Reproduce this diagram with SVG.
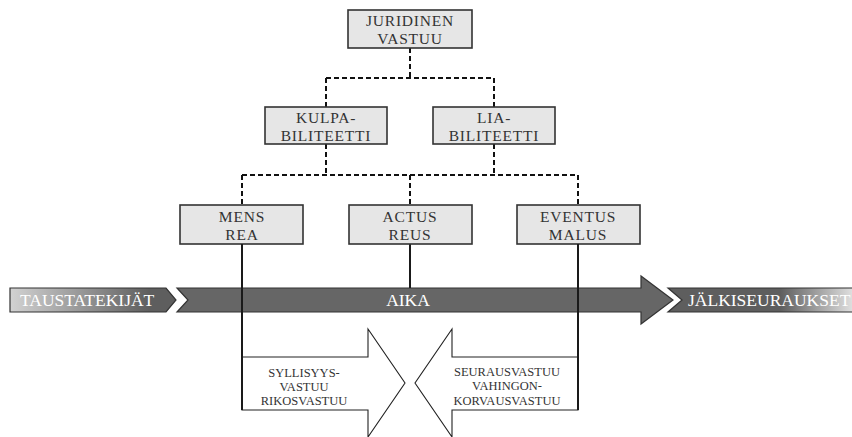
<svg xmlns="http://www.w3.org/2000/svg" width="852" height="437" viewBox="0 0 852 437">
  <defs>
    <linearGradient id="gradIn" gradientUnits="userSpaceOnUse" x1="10" y1="0" x2="150" y2="0">
      <stop offset="0" stop-color="#d2d2d2"/>
      <stop offset="1" stop-color="#5e5e5e"/>
    </linearGradient>
    <linearGradient id="gradOut" gradientUnits="userSpaceOnUse" x1="780" y1="0" x2="852" y2="0">
      <stop offset="0" stop-color="#5e5e5e"/>
      <stop offset="1" stop-color="#dedede"/>
    </linearGradient>
    <style>
      .box { fill: #e6e6e6; stroke: #333; stroke-width: 1.6; }
      .lbl { font-family: "Liberation Serif", "Times New Roman", serif; font-size: 15.5px; letter-spacing: 0.8px; fill: #333; text-anchor: middle; }
      .dash { fill: none; stroke: #111; stroke-width: 2; stroke-dasharray: 5 3; }
      .solid { fill: none; stroke: #1a1a1a; stroke-width: 2; }
      .band { stroke: #333; stroke-width: 1.2; }
      .bandtxt { font-family: "Liberation Serif", "Times New Roman", serif; font-size: 17.5px; fill: #fff; }
      .big { fill: #fff; stroke: #222; stroke-width: 1.1; }
      .small { font-family: "Liberation Serif", "Times New Roman", serif; font-size: 12.5px; fill: #333; text-anchor: middle; }
    </style>
  </defs>

  <!-- timeline -->
  <g id="timeline">
    <polygon class="band" fill="url(#gradIn)" points="10,288 166,288 176,300 166,312 10,312"/>
    <text class="bandtxt" x="20" y="306">TAUSTATEKIJÄT</text>
    <polygon class="band" fill="#666" points="177,288 641,288 641,276 673,300 641,324 641,312 177,312 188,300"/>
    <text class="bandtxt" x="408" y="306" text-anchor="middle">AIKA</text>
    <polygon class="band" fill="url(#gradOut)" points="668,288 853,288 853,312 668,312 682,300"/>
    <text class="bandtxt" x="688" y="306">JÄLKISEURAUKSET</text>
  </g>

  <!-- connectors -->
  <g id="connectors">
    <path class="dash" d="M410,48 V78 M326,78 H494 M326,78 V107 M494,78 V107"/>
    <path class="dash" d="M326,144 V175 M494,144 V175 M242,175 H578 M242,175 V205 M410,175 V205 M578,175 V205"/>
    <path class="solid" d="M410,244 V288"/>
  </g>

  <g id="juridinen">
    <rect class="box" x="348" y="10" width="124" height="38"/>
    <text class="lbl" x="410" y="26">JURIDINEN</text>
    <text class="lbl" x="410" y="44">VASTUU</text>
  </g>

  <g id="kulpabiliteetti">
    <rect class="box" x="265" y="107" width="122" height="37"/>
    <text class="lbl" x="326" y="123">KULPA-</text>
    <text class="lbl" x="326" y="141">BILITEETTI</text>
  </g>

  <g id="liabiliteetti">
    <rect class="box" x="433" y="107" width="122" height="37"/>
    <text class="lbl" x="494" y="123">LIA-</text>
    <text class="lbl" x="494" y="141">BILITEETTI</text>
  </g>

  <g id="mensrea">
    <rect class="box" x="180" y="205" width="123" height="39"/>
    <text class="lbl" x="242" y="222">MENS</text>
    <text class="lbl" x="242" y="240">REA</text>
  </g>

  <g id="actusreus">
    <rect class="box" x="349" y="205" width="123" height="39"/>
    <text class="lbl" x="410" y="222">ACTUS</text>
    <text class="lbl" x="410" y="240">REUS</text>
  </g>

  <g id="eventusmalus">
    <rect class="box" x="517" y="205" width="123" height="39"/>
    <text class="lbl" x="578" y="222">EVENTUS</text>
    <text class="lbl" x="578" y="240">MALUS</text>
  </g>

  <g id="syyllisyysvastuu">
    <polygon class="big" points="242,357 368,357 368,329 405,383 368,437 368,410 242,410"/>
    <text class="small" x="304" y="377">SYLLISYYS-</text>
    <text class="small" x="304" y="391">VASTUU</text>
    <text class="small" x="304" y="405">RIKOSVASTUU</text>
  </g>

  <g id="seurausvastuu">
    <polygon class="big" points="578,357 452,357 452,329 415,383 452,437 452,410 578,410"/>
    <text class="small" x="507" y="376">SEURAUSVASTUU</text>
    <text class="small" x="507" y="390">VAHINGON-</text>
    <text class="small" x="507" y="405">KORVAUSVASTUU</text>
  </g>

  <!-- box-to-arrow lines, drawn over the timeline -->
  <g id="leads">
    <path class="solid" d="M242,244 V410 M578,244 V410"/>
  </g>
</svg>
